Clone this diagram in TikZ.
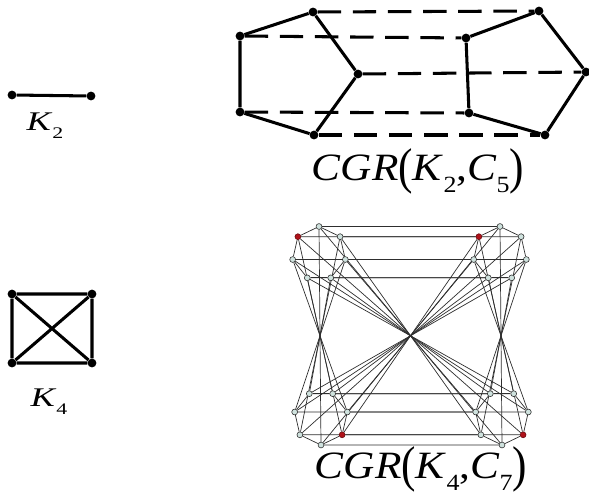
\documentclass[tikz,border=0pt]{standalone}
\usepackage{fontspec}
\setmainfont{Liberation Serif}
\usepackage{graphicx}
\usetikzlibrary{backgrounds}
\definecolor{cdot}{HTML}{CFE2DE}
\definecolor{cred}{HTML}{B0121A}
\definecolor{cline}{HTML}{2E2E2E}
\newcommand\gsub[2]{\textit{#1}\raisebox{-0.32em}{\scalebox{0.6}{#2}}}
\newcommand\tallparen[1]{\raisebox{-0.1em}{\scalebox{1}[1.3]{#1}}}
\newcommand\stretchtext[2]{\scalebox{#1}[1]{#2}}
\tikzset{
  every picture/.style={x=0.03cm, y=-0.03cm},
  dot/.style={circle, fill=black, inner sep=0pt, minimum size=7.5pt},
  vtx/.style={circle, draw=cline, fill=cdot, line width=0.5pt, inner sep=0pt, minimum size=5pt},
  redvtx/.style={vtx, fill=cred, draw=cred!60!black},
  thickline/.style={line width=2.6pt},
  link/.style={thickline, dash pattern=on 20pt off 10pt},
  wire/.style={draw=cline, line width=0.6pt},
  glabel/.style={font=\fontsize{23}{23}\selectfont, anchor=base},
  cgrlabel/.style={font=\fontsize{33}{33}\selectfont, anchor=base},
}

\begin{document}
\begin{tikzpicture}
\useasboundingbox (0,0) rectangle (589,499);
  \node[dot] (a) at (12,95) {};
  \node[dot] (b) at (91,96) {};
  \draw[thickline] (a) -- (b);
  \node[glabel] (k2) at (45,130) {\stretchtext{1.35}{\gsub{K}{2}}};

  \node[dot] (u1) at (12,294) {};
  \node[dot] (u2) at (92,294) {};
  \node[dot] (u3) at (92,363) {};
  \node[dot] (u4) at (12,363) {};
  \draw[thickline] (u1) -- (u2) -- (u3) -- (u4) -- (u1) (u1) -- (u3) (u2) -- (u4);
  \node[glabel] (k4) at (49,406) {\stretchtext{1.35}{\gsub{K}{4}}};

  \node[dot] (p1) at (313,12) {};
  \node[dot] (p2) at (240,36) {};
  \node[dot] (p3) at (240,112) {};
  \node[dot] (p4) at (314,135) {};
  \node[dot] (p5) at (358,74) {};
  \node[dot] (q1) at (539,11) {};
  \node[dot] (q2) at (466,38) {};
  \node[dot] (q3) at (469,113) {};
  \node[dot] (q4) at (545,135) {};
  \node[dot] (q5) at (586,72) {};
  \draw[thickline] (p1) -- (p2) -- (p3) -- (p4) -- (p5) -- (p1);
  \draw[thickline] (q1) -- (q2) -- (q3) -- (q4) -- (q5) -- (q1);
  \foreach \i in {1,...,5}
    \draw[link] (p\i) -- (q\i);
  \node[cgrlabel] (cgr1) at (418,180) {\stretchtext{1.12}{\textit{CGR}\tallparen{(}\gsub{K}{2},\gsub{C}{5}\tallparen{)}}};

  \foreach \i/\s in {0/vtx,1/redvtx,2/vtx,3/vtx,4/vtx,5/vtx,6/vtx}{
    \pgfmathsetmacro\ang{90+\i*360/7}
    \node[\s] (tl\i) at ({319+27*cos(\ang)},{253.5-27*sin(\ang)}) {};
    \node[\s] (tr\i) at ({500+27*cos(\ang)},{253.5-27*sin(\ang)}) {};
    \node[\s] (bl\i) at ({321-27*cos(\ang)},{418+27*sin(\ang)}) {};
    \node[\s] (br\i) at ({502-27*cos(\ang)},{418+27*sin(\ang)}) {};
  }
  \begin{scope}[on background layer]
  \foreach \i in {0,...,6}{
    \pgfmathtruncatemacro\j{mod(\i+1,7)}
    \draw[wire] (tl\i) -- (tl\j) (tr\i) -- (tr\j) (bl\i) -- (bl\j) (br\i) -- (br\j);
    \draw[wire] (tl\i) -- (tr\i) (bl\i) -- (br\i) (tl\i) -- (bl\i) (tr\i) -- (br\i);
    \draw[wire] (tl\i) -- (br\i) (tr\i) -- (bl\i);
  }
  \end{scope}
  \node[cgrlabel] (cgr2) at (421,478) {\stretchtext{1.12}{\textit{CGR}\tallparen{(}\gsub{K}{4},\gsub{C}{7}\tallparen{)}}};
\end{tikzpicture}
\end{document}
